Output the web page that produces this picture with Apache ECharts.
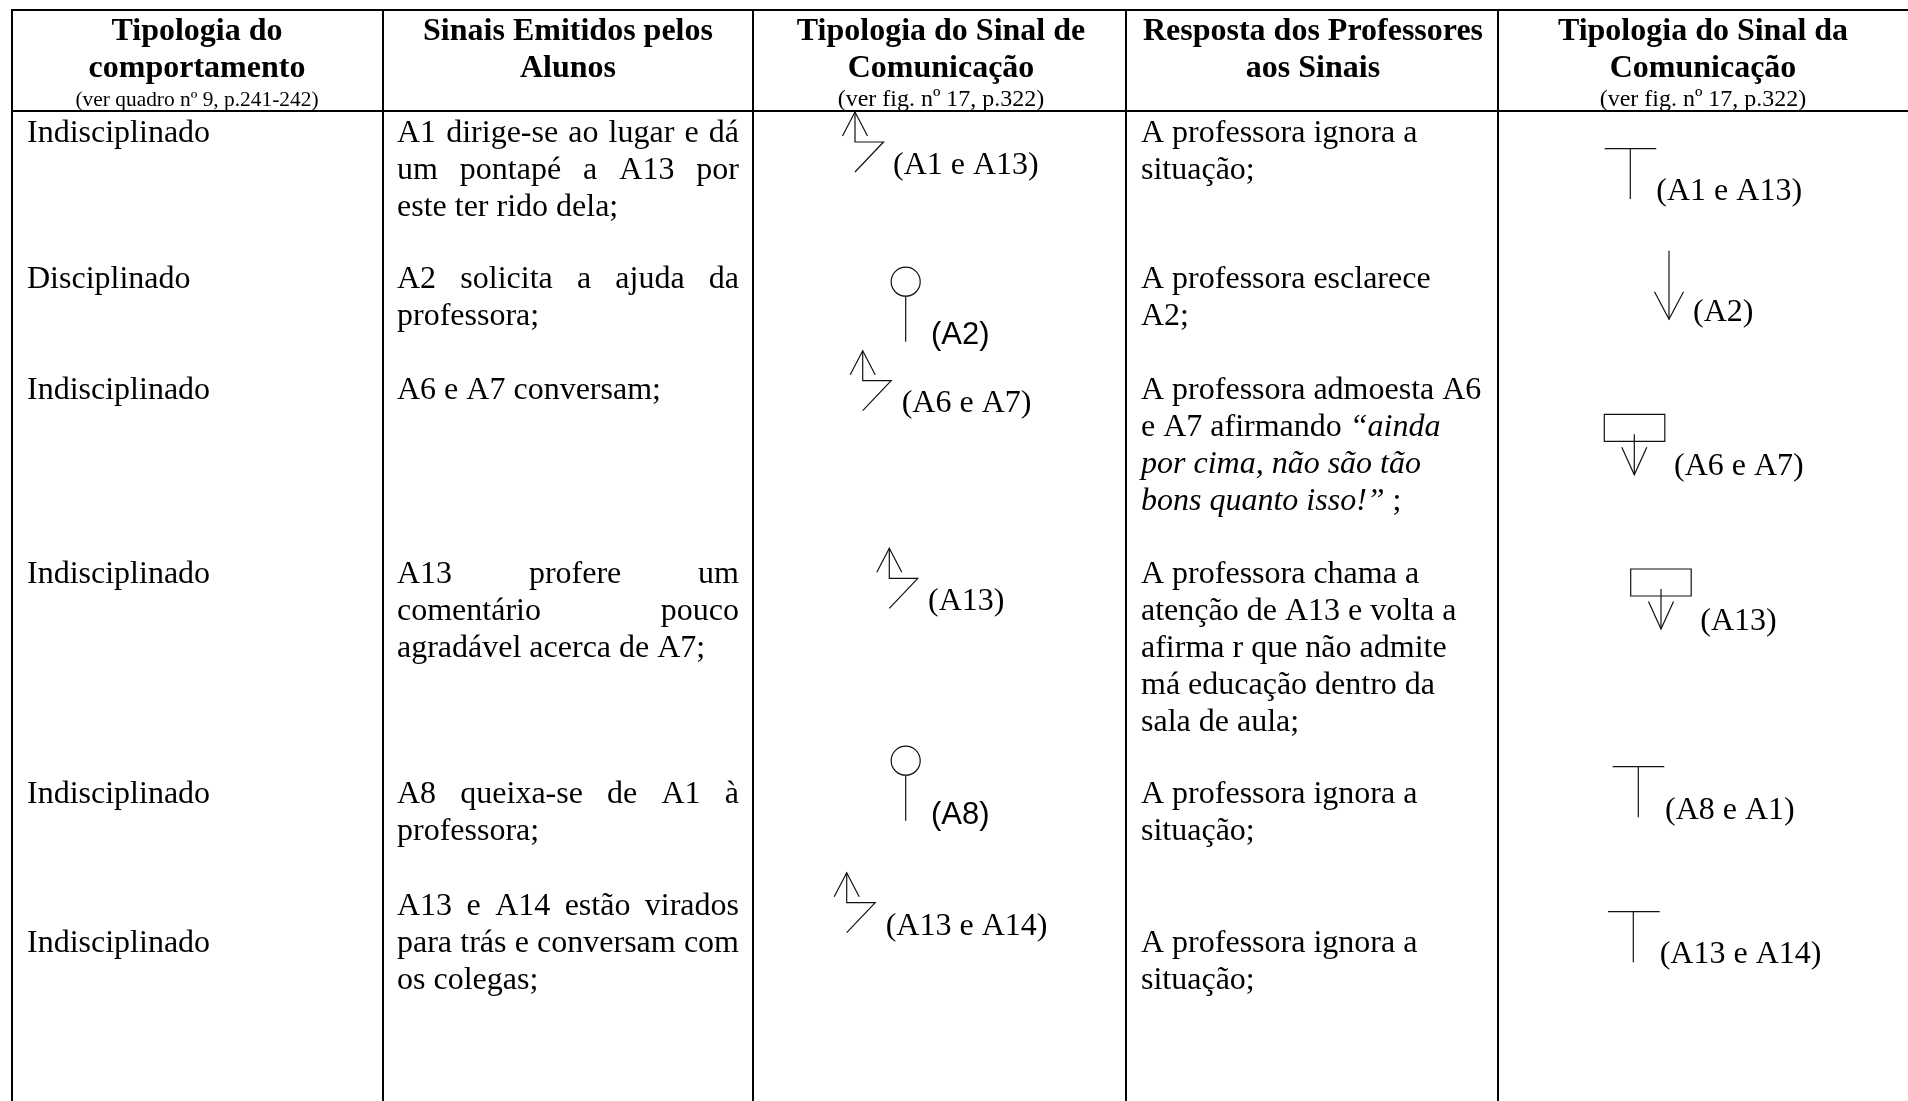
<!DOCTYPE html>
<html>
<head>
<meta charset="utf-8">
<title>Tipologia do comportamento</title>
<style>
html, body { margin: 0; padding: 0; background: #fff; }
#main { width: 1908px; height: 1101px; }
</style>
<script src="https://cdn.jsdelivr.net/npm/echarts@6/dist/echarts.min.js"></script>
</head>
<body>
<div id="main"></div>
<script>
// table text
var headerTitles = [
    ['Tipologia do', 'comportamento'],
    ['Sinais Emitidos pelos', 'Alunos'],
    ['Tipologia do Sinal de', 'Comunicação'],
    ['Resposta dos Professores', 'aos Sinais'],
    ['Tipologia do Sinal da', 'Comunicação']
];
var headerNotes = ['(ver quadro nº 9, p.241-242)', '', '(ver fig. nº 17, p.322)', '', '(ver fig. nº 17, p.322)'];
var behaviours = ['Indisciplinado', 'Disciplinado', 'Indisciplinado', 'Indisciplinado', 'Indisciplinado', 'Indisciplinado'];
var signals = [
    ['A1 dirige-se ao lugar e dá', 'um pontapé a A13 por', 'este ter rido dela;'],
    ['A2 solicita a ajuda da', 'professora;'],
    ['A6 e A7 conversam;'],
    ['A13 profere um', 'comentário pouco', 'agradável acerca de A7;'],
    ['A8 queixa-se de A1 à', 'professora;'],
    ['A13 e A14 estão virados', 'para trás e conversam com', 'os colegas;']
];
var responses = [
    ['A professora ignora a', 'situação;'],
    ['A professora esclarece', 'A2;'],
    ['A professora admoesta A6', 'e A7 afirmando {i|“ainda}', '{i|por cima, não são tão}', '{i|bons quanto isso!”} ;'],
    ['A professora chama a', 'atenção de A13 e volta a', 'afirma r que não admite', 'má educação dentro da', 'sala de aula;'],
    ['A professora ignora a', 'situação;'],
    ['A professora ignora a', 'situação;']
];
var studentSignalLabels = ['(A1 e A13)', '(A2)', '(A6 e A7)', '(A13)', '(A8)', '(A13 e A14)'];
var teacherSignalLabels = ['(A1 e A13)', '(A2)', '(A6 e A7)', '(A13)', '(A8 e A1)', '(A13 e A14)'];

// layout
var columnRules = [12, 383, 753, 1126, 1498];
var columnCentres = [197, 568, 941, 1313, 1703];
var noteSizes = [21.4, 24, 24, 24, 24];
var columnLefts = [27, 397, 0, 1141, 0];
var justifyRight = 739;
var rowTops = [134, 280, 391, 575, 795, 907];
var behaviourTops = [134, 280, 391, 575, 795, 944];
var responseTops = [134, 280, 391, 575, 795, 944];
var lineStep = 36.8;
var serif = '"Liberation Serif", "Times New Roman", serif';
var sans = '"Liberation Sans", Arial, sans-serif';

var measure = document.createElement('canvas').getContext('2d');
var elements = [];

function rule(x, y, w, h) {
    elements.push({ type: 'rect', silent: true, shape: { x: x, y: y, width: w, height: h }, style: { fill: '#000' } });
}

function text(str, x, y, opts) {
    opts = opts || {};
    elements.push({
        type: 'text', silent: true, x: x, y: y,
        style: {
            text: str,
            fontFamily: opts.family || serif,
            fontSize: opts.size || 32,
            fontWeight: opts.weight || 'normal',
            fill: '#000',
            align: opts.align || 'left',
            verticalAlign: 'middle',
            rich: opts.rich
        }
    });
}

// spreads the words of a line so it fills the column
function justified(line, left, right, y) {
    var words = line.split(' ');
    measure.font = '32px ' + serif;
    var total = 0;
    words.forEach(function (w) { total += measure.measureText(w).width; });
    var gap = (right - left - total) / (words.length - 1);
    var x = left;
    words.forEach(function (w) {
        text(w, x, y);
        x += measure.measureText(w).width + gap;
    });
}

function stroke(points) {
    elements.push({
        type: 'polyline', silent: true, shape: { points: points },
        style: { stroke: '#111', lineWidth: 1.2, fill: null }
    });
}

// broken arrow, x/y is the tip
function zigzag(x, y) {
    stroke([[x - 12.5, y + 24], [x, y], [x + 12.5, y + 24]]);
    stroke([[x, y], [x, y + 30], [x + 28.5, y + 30], [x, y + 60]]);
}

function pin(x, y, bottom) {
    elements.push({
        type: 'circle', silent: true, shape: { cx: x, cy: y, r: 14.5 },
        style: { stroke: '#111', lineWidth: 1.2, fill: null }
    });
    stroke([[x, y + 14.5], [x, bottom]]);
}

function tee(left, right, y, stemX, bottom) {
    stroke([[left, y], [right, y]]);
    stroke([[stemX, y], [stemX, bottom]]);
}

function downArrow(x, top, tip, spread) {
    stroke([[x, top], [x, tip]]);
    stroke([[x - spread, tip - 27.5], [x, tip], [x + spread, tip - 27.5]]);
}

function boxArrow(left, top, x, stemTop, tip) {
    elements.push({
        type: 'rect', silent: true, shape: { x: left, y: top, width: 60.5, height: 27 },
        style: { stroke: '#111', lineWidth: 1.2, fill: null }
    });
    downArrow(x, stemTop, tip, 12.5);
}

// rules
rule(11, 9, 1897, 2);
rule(11, 110, 1897, 2);
columnRules.forEach(function (x) { rule(x - 1, 9, 2, 1092); });

// header
headerTitles.forEach(function (lines, c) {
    text(lines[0], columnCentres[c], 32, { weight: 'bold', align: 'center' });
    text(lines[1], columnCentres[c], 69, { weight: 'bold', align: 'center' });
    if (headerNotes[c]) {
        text(headerNotes[c], columnCentres[c], 100, { size: noteSizes[c], align: 'center' });
    }
});

// body
var richItalic = { i: { fontStyle: 'italic', fontFamily: serif, fontSize: 32, fill: '#000' } };
behaviours.forEach(function (b, r) {
    text(b, columnLefts[0], behaviourTops[r]);
});
signals.forEach(function (lines, r) {
    lines.forEach(function (line, l) {
        var y = rowTops[r] + l * lineStep;
        if (l === lines.length - 1) {
            text(line, columnLefts[1], y);
        } else {
            justified(line, columnLefts[1], justifyRight, y);
        }
    });
});
responses.forEach(function (lines, r) {
    lines.forEach(function (line, l) {
        text(line, columnLefts[3], responseTops[r] + l * lineStep, { rich: richItalic });
    });
});

// student signals
zigzag(855, 112);
text(studentSignalLabels[0], 893, 166);
pin(905.7, 281.7, 341.7);
text(studentSignalLabels[1], 931, 335, { family: sans, size: 31 });
zigzag(862.7, 350.7);
text(studentSignalLabels[2], 901.7, 404);
zigzag(889.3, 548.3);
text(studentSignalLabels[3], 928, 602);
pin(905.7, 760.7, 820.7);
text(studentSignalLabels[4], 931, 815, { family: sans, size: 31 });
zigzag(846.7, 872.7);
text(studentSignalLabels[5], 885.7, 927);

// teacher signals
tee(1604.7, 1656.3, 148.7, 1630.3, 199);
text(teacherSignalLabels[0], 1656.3, 192);
downArrow(1669, 250.7, 319.3, 14.5);
text(teacherSignalLabels[1], 1693, 313);
boxArrow(1604.3, 414.3, 1634.3, 434.3, 474.7);
text(teacherSignalLabels[2], 1674, 467);
boxArrow(1630.7, 569, 1661, 589, 629);
text(teacherSignalLabels[3], 1700.3, 622);
tee(1612.7, 1664.3, 766.7, 1638.3, 817.3);
text(teacherSignalLabels[4], 1665, 811);
tee(1608, 1659.7, 911.7, 1633.3, 962.3);
text(teacherSignalLabels[5], 1659.7, 955);

var myChart = echarts.init(document.getElementById('main'));
myChart.setOption({
    animation: false,
    backgroundColor: '#fff',
    graphic: { elements: elements }
});
</script>
</body>
</html>
